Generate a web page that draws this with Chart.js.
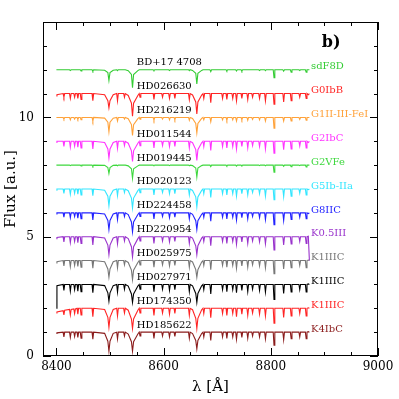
<!DOCTYPE html>
<html><head><meta charset="utf-8">
<script src="https://cdn.jsdelivr.net/npm/chart.js@4/dist/chart.umd.min.js"></script>
<style>html,body{margin:0;padding:0;background:#fff}#wrap{width:399px;height:399px}</style>
</head><body><div id="wrap"><canvas id="c" width="399" height="399"></canvas></div>
<script>
// Shared wavelength grid (Angstrom)
const wavelength = [8400, 8401,
 8412.5,8414,8415.5, 8424.5,8426,8427.5, 8432.5,8434,8435.5, 8438.5,8440,8441.5, 8444.5,8446,8447.5, 8466.5,8468,8469.5,
 8490,8496,8498,8500,8506,
 8512.5,8514,8515.5, 8525.5,8527,8528.5,
 8534,8540,8542,8544,8552,
 8554.5,8556,8557.5, 8580.5,8582,8583.5, 8596.5,8598,8599.5, 8609.5,8611,8612.5, 8619.5,8621,8622.5, 8646.5,8648,8649.5,
 8654,8660,8662,8664,8671,
 8673.5,8675,8676.5, 8686.5,8688,8689.5, 8708.5,8710,8711.5, 8716.5,8718,8719.5, 8727.5,8729,8730.5, 8734.5,8736,8737.5, 8744.5,8746,8747.5, 8755.5,8757,8758.5, 8764.5,8766,8767.5, 8777.5,8779,8780.5, 8788.5,8790,8791.5, 8804.5,8806,8807.5, 8822.5,8824,8825.5, 8836.5,8838,8839.5, 8852.5,8854,8855.5, 8864.5,8866,8867.5,
 8870, 8872];

const starNames = ["BD+17 4708","HD026630","HD216219","HD011544","HD019445","HD020123","HD224458","HD220954","HD025975","HD027971","HD174350","HD185622"];
const spectralTypes = ["sdF8D","G0IbB","G1II-III-FeI","G2IbC","G2VFe","G5Ib-IIa","G8IIC","K0.5III","K1IIIC","K1IIIC","K1IIIC","K4IbC"];
const offsets = [12,11,10,9,8,7,6,5,4,3,2,1];
const colors = ["#33cc33","#ff2424","#ffa23a","#ff33ff","#3ed83e","#33e6ff","#2222ff","#9933cc","#777777","#000000","#ff2424","#8b1c1c"];

const flux_sdF8D = [12, 12,
 12,12,12, 12,11.97,12, 12,12,12, 12,12,12, 12,11.95,12, 12,11.94,12,
 11.98,11.88,11.55,11.88,11.98,
 12,11.96,12, 12,12,12,
 11.96,11.8,11.25,11.8,11.96,
 12,12,12, 12,11.97,12, 12,12,12, 12,11.97,12, 12,12,12, 12,11.96,12,
 11.97,11.85,11.4,11.85,11.97,
 12,12,12, 12,11.92,12, 12,12,12, 12,11.95,12, 12,12,12, 12,11.95,12, 12,11.94,12, 12,12,12, 12,12,12, 12,11.97,12, 12,11.96,12, 12,11.67,12, 12,11.94,12, 12,11.9,12, 12,11.97,12, 12,11.9,12,
 12, 12];
const flux_G0IbB = [10.9, 10.95,
 11,10.85,11, 11,10.8,11, 11,10.85,11, 11,10.8,11, 11,10.75,11, 11,10.7,11,
 10.95,10.7,10.4,10.7,10.95,
 11,10.7,11, 11,10.85,11,
 10.92,10.6,10.05,10.6,10.92,
 11,10.85,11, 11,10.75,11, 11,10.85,11, 11,10.8,11, 11,10.8,11, 11,10.75,11,
 10.94,10.65,10.15,10.65,10.94,
 11,10.8,11, 11,10.62,11, 11,10.8,11, 11,10.75,11, 11,10.8,11, 11,10.7,11, 11,10.8,11, 11,10.75,11, 11,10.85,11, 11,10.8,11, 11,10.7,11, 11,10.55,11, 11,10.65,11, 11,10.7,11, 11,10.85,11, 11,10.8,11,
 10.95, 11];
const flux_G1II = [10, 10,
 10,9.93,10, 10,9.9,10, 10,9.93,10, 10,9.92,10, 10,9.9,10, 10,9.85,10,
 9.97,9.8,9.4,9.8,9.97,
 10,9.85,10, 10,9.93,10,
 9.95,9.7,9.25,9.7,9.95,
 10,9.93,10, 10,9.88,10, 10,9.93,10, 10,9.9,10, 10,9.9,10, 10,9.88,10,
 9.96,9.75,9.35,9.75,9.96,
 10,9.9,10, 10,9.82,10, 10,9.9,10, 10,9.88,10, 10,9.9,10, 10,9.85,10, 10,9.9,10, 10,9.88,10, 10,9.92,10, 10,9.9,10, 10,9.85,10, 10,9.55,10, 10,9.85,10, 10,9.85,10, 10,9.92,10, 10,9.88,10,
 10, 10];
const flux_G2IbC = [8.95, 9,
 9,8.78,9, 9,8.75,9, 9,8.8,9, 9,8.75,9, 9,8.72,9, 9,8.68,9,
 8.95,8.68,8.3,8.68,8.95,
 9,8.7,9, 9,8.82,9,
 8.92,8.6,8.15,8.6,8.92,
 9,8.82,9, 9,8.72,9, 9,8.82,9, 9,8.78,9, 9,8.78,9, 9,8.72,9,
 8.94,8.65,8.2,8.65,8.94,
 9,8.78,9, 9,8.62,9, 9,8.78,9, 9,8.72,9, 9,8.78,9, 9,8.68,9, 9,8.78,9, 9,8.72,9, 9,8.82,9, 9,8.78,9, 9,8.68,9, 9,8.5,9, 9,8.65,9, 9,8.68,9, 9,8.8,9, 9,8.72,9,
 8.95, 9];
const flux_G2VFe = [8, 8,
 8,8,8, 8,7.98,8, 8,8,8, 8,8,8, 8,7.97,8, 8,7.95,8,
 7.99,7.9,7.65,7.9,7.99,
 8,7.97,8, 8,8,8,
 7.97,7.85,7.45,7.85,7.97,
 8,8,8, 8,7.98,8, 8,8,8, 8,7.98,8, 8,8,8, 8,7.97,8,
 7.98,7.88,7.5,7.88,7.98,
 8,8,8, 8,7.94,8, 8,8,8, 8,7.96,8, 8,8,8, 8,7.96,8, 8,7.97,8, 8,8,8, 8,8,8, 8,7.98,8, 8,7.97,8, 8,7.7,8, 8,7.95,8, 8,7.93,8, 8,7.98,8, 8,7.92,8,
 8, 8];
const flux_G5Ib = [6.95, 7,
 7,6.82,7, 7,6.78,7, 7,6.82,7, 7,6.78,7, 7,6.75,7, 7,6.72,7,
 6.95,6.7,6.3,6.7,6.95,
 7,6.72,7, 7,6.85,7,
 6.93,6.62,6.2,6.62,6.93,
 7,6.85,7, 7,6.75,7, 7,6.85,7, 7,6.8,7, 7,6.8,7, 7,6.75,7,
 6.94,6.67,6.25,6.67,6.94,
 7,6.8,7, 7,6.65,7, 7,6.8,7, 7,6.75,7, 7,6.8,7, 7,6.7,7, 7,6.8,7, 7,6.75,7, 7,6.85,7, 7,6.8,7, 7,6.7,7, 7,6.55,7, 7,6.68,7, 7,6.7,7, 7,6.82,7, 7,6.75,7,
 6.97, 7];
const flux_G8IIC = [5.95, 6,
 6,5.82,6, 6,5.8,6, 6,5.85,6, 6,5.78,6, 6,5.75,6, 6,5.7,6,
 5.95,5.68,5.3,5.68,5.95,
 6,5.72,6, 6,5.85,6,
 5.93,5.62,5.2,5.62,5.93,
 6,5.85,6, 6,5.75,6, 6,5.85,6, 6,5.8,6, 6,5.82,6, 6,5.75,6,
 5.94,5.67,5.3,5.67,5.94,
 6,5.82,6, 6,5.65,6, 6,5.82,6, 6,5.75,6, 6,5.82,6, 6,5.7,6, 6,5.8,6, 6,5.75,6, 6,5.85,6, 6,5.8,6, 6,5.72,6, 6,5.5,6, 6,5.68,6, 6,5.72,6, 6,5.82,6, 6,5.75,6,
 5.97, 6];
const flux_K05III = [4.92, 4.97,
 5,4.78,5, 5,4.75,5, 5,4.8,5, 5,4.75,5, 5,4.72,5, 5,4.65,5,
 4.95,4.65,4.25,4.65,4.95,
 5,4.7,5, 5,4.82,5,
 4.92,4.58,4.15,4.58,4.92,
 5,4.82,5, 5,4.72,5, 5,4.82,5, 5,4.78,5, 5,4.8,5, 5,4.72,5,
 4.94,4.62,4.25,4.62,4.94,
 5,4.8,5, 5,4.62,5, 5,4.8,5, 5,4.72,5, 5,4.8,5, 5,4.68,5, 5,4.78,5, 5,4.72,5, 5,4.82,5, 5,4.78,5, 5,4.7,5, 5,4.45,5, 5,4.65,5, 5,4.7,5, 5,4.8,5, 5,4.72,5,
 5.02, 4.0];
const flux_K1IIIC_a = [3.9, 3.95,
 4,3.78,4, 4,3.75,4, 4,3.8,4, 4,3.75,4, 4,3.72,4, 4,3.68,4,
 3.95,3.65,3.3,3.65,3.95,
 4,3.7,4, 4,3.82,4,
 3.92,3.6,3.2,3.6,3.92,
 4,3.82,4, 4,3.72,4, 4,3.82,4, 4,3.78,4, 4,3.8,4, 4,3.72,4,
 3.94,3.62,3.3,3.62,3.94,
 4,3.8,4, 4,3.62,4, 4,3.8,4, 4,3.72,4, 4,3.8,4, 4,3.68,4, 4,3.78,4, 4,3.72,4, 4,3.82,4, 4,3.78,4, 4,3.7,4, 4,3.45,4, 4,3.65,4, 4,3.7,4, 4,3.8,4, 4,3.7,4,
 4.02, 4];
const flux_K1IIIC_b = [2.0, 2.95,
 3,2.75,3, 3,2.72,3, 3,2.78,3, 3,2.72,3, 3,2.7,3, 3,2.65,3,
 2.95,2.65,2.3,2.65,2.95,
 3,2.68,3, 3,2.8,3,
 2.93,2.6,2.25,2.6,2.93,
 3,2.8,3, 3,2.7,3, 3,2.8,3, 3,2.75,3, 3,2.78,3, 3,2.7,3,
 2.94,2.62,2.25,2.62,2.94,
 3,2.78,3, 3,2.6,3, 3,2.78,3, 3,2.7,3, 3,2.78,3, 3,2.65,3, 3,2.75,3, 3,2.7,3, 3,2.8,3, 3,2.75,3, 3,2.68,3, 3,2.37,3, 3,2.62,3, 3,2.68,3, 3,2.78,3, 3,2.68,3,
 3.02, 3];
const flux_K1IIIC_c = [1.8, 1.85,
 1.9,1.72,1.92, 1.95,1.72,1.95, 1.97,1.78,1.97, 2,1.75,2, 2,1.72,2, 2,1.65,2,
 1.95,1.62,1.2,1.62,1.95,
 2,1.68,2, 2,1.8,2,
 1.92,1.55,1.15,1.55,1.92,
 2,1.8,2, 2,1.7,2, 2,1.8,2, 2,1.75,2, 2,1.78,2, 2,1.7,2,
 1.94,1.58,1.15,1.58,1.94,
 2,1.78,2, 2,1.6,2, 2,1.78,2, 2,1.7,2, 2,1.78,2, 2,1.65,2, 2,1.75,2, 2,1.7,2, 2,1.8,2, 2,1.75,2, 2,1.68,2, 2,1.37,2, 2,1.62,2, 2,1.68,2, 2,1.78,2, 2,1.68,2,
 2.02, 2];
const flux_K4IbC = [0.95, 0.97,
 1,0.8,1, 1,0.78,1, 1,0.82,1, 1,0.78,1, 1,0.75,1, 1,0.7,1,
 0.95,0.62,0.2,0.62,0.95,
 1,0.72,1, 1,0.84,1,
 0.92,0.6,0.2,0.6,0.92,
 1,0.84,1, 1,0.74,1, 1,0.84,1, 1,0.8,1, 1,0.82,1, 1,0.74,1,
 0.94,0.65,0.3,0.65,0.94,
 1,0.8,1, 1,0.65,1, 1,0.8,1, 1,0.74,1, 1,0.8,1, 1,0.7,1, 1,0.78,1, 1,0.74,1, 1,0.84,1, 1,0.8,1, 1,0.72,1, 1,0.45,1, 1,0.68,1, 1,0.72,1, 1,0.8,1, 1,0.72,1,
 1.02, 1];

const fluxes = [flux_sdF8D, flux_G0IbB, flux_G1II, flux_G2IbC, flux_G2VFe, flux_G5Ib, flux_G8IIC, flux_K05III, flux_K1IIIC_a, flux_K1IIIC_b, flux_K1IIIC_c, flux_K4IbC];

const xTicks = [8400, 8600, 8800, 9000];
const yTicks = [0, 5, 10];

fluxes.forEach((f, i) => { if (f.length !== wavelength.length) console.error('length mismatch', i, f.length, wavelength.length); });

const datasets = fluxes.map((f, i) => ({
  label: spectralTypes[i],
  data: wavelength.map((w, j) => ({x: w, y: f[j]})),
  borderColor: colors[i],
  borderWidth: 1.1,
  pointRadius: 0,
  tension: 0,
  fill: false
}));

const SERIF = '"DejaVu Serif", "Liberation Serif", serif';

const decor = {
  id: 'decor',
  afterDraw(chart) {
    const {ctx, chartArea: a, scales: {x, y}} = chart;
    ctx.save();
    ctx.strokeStyle = '#000';
    ctx.lineWidth = 1;
    ctx.strokeRect(Math.round(a.left) + 0.5, Math.round(a.top) + 0.5, Math.round(a.right - a.left) - 1, Math.round(a.bottom - a.top) - 1);
    ctx.beginPath();
    for (let v = 8400; v <= 9000; v += 50) {
      const px = Math.round(x.getPixelForValue(v)) + 0.5;
      const L = (v % 200 === 0) ? 8 : 4;
      ctx.moveTo(px, a.bottom); ctx.lineTo(px, a.bottom - L);
      ctx.moveTo(px, a.top); ctx.lineTo(px, a.top + L);
    }
    for (let v = 0; v <= 14; v += 1) {
      const py = Math.round(y.getPixelForValue(v)) + 0.5;
      const L = (v % 5 === 0) ? 8 : 4;
      ctx.moveTo(a.left, py); ctx.lineTo(a.left + L, py);
      ctx.moveTo(a.right, py); ctx.lineTo(a.right - L, py);
    }
    ctx.stroke();
    // tick labels
    ctx.fillStyle = '#000';
    ctx.font = '12px ' + SERIF;
    ctx.textAlign = 'center'; ctx.textBaseline = 'middle';
    xTicks.forEach(v => ctx.fillText(String(v), x.getPixelForValue(v), a.bottom + 11));
    ctx.textAlign = 'right';
    yTicks.forEach(v => ctx.fillText(String(v), a.left - 9, y.getPixelForValue(v)));
    // axis titles
    ctx.font = '15px ' + SERIF;
    ctx.textAlign = 'center';
    ctx.fillText('λ [Å]', (a.left + a.right) / 2, a.bottom + 31);
    ctx.save();
    ctx.translate(11, (a.top + a.bottom) / 2);
    ctx.rotate(-Math.PI / 2);
    ctx.fillText('Flux [a.u.]', 0, 0);
    ctx.restore();
    // star names and spectral types
    ctx.font = '10px ' + SERIF;
    ctx.textAlign = 'left';
    starNames.forEach((n, i) => {
      ctx.fillStyle = '#000';
      ctx.fillText(n, x.getPixelForValue(8550), y.getPixelForValue(offsets[i] + 0.3));
    });
    spectralTypes.forEach((t, i) => {
      ctx.fillStyle = colors[i];
      ctx.fillText(t, x.getPixelForValue(8875), y.getPixelForValue(offsets[i] + 0.12));
    });
    // panel tag
    ctx.fillStyle = '#000';
    ctx.font = 'bold 16px ' + SERIF;
    ctx.fillText('b)', x.getPixelForValue(8895), y.getPixelForValue(13.14));
    ctx.restore();
  }
};

new Chart(document.getElementById('c'), {
  type: 'line',
  data: { datasets },
  options: {
    responsive: false,
    animation: false,
    events: [],
    layout: { padding: { left: 0, top: 22, right: 21, bottom: 0 } },
    plugins: { legend: { display: false }, tooltip: { enabled: false } },
    scales: {
      x: {
        type: 'linear', min: 8375, max: 9000,
        grid: { display: false, drawTicks: false },
        border: { display: false },
        ticks: { display: false },
        afterFit(s) { s.height = 43; }
      },
      y: {
        type: 'linear', min: 0, max: 14,
        grid: { display: false, drawTicks: false },
        border: { display: false },
        ticks: { display: false },
        afterFit(s) { s.width = 43; }
      }
    }
  },
  plugins: [decor]
});
</script>
</body></html>
